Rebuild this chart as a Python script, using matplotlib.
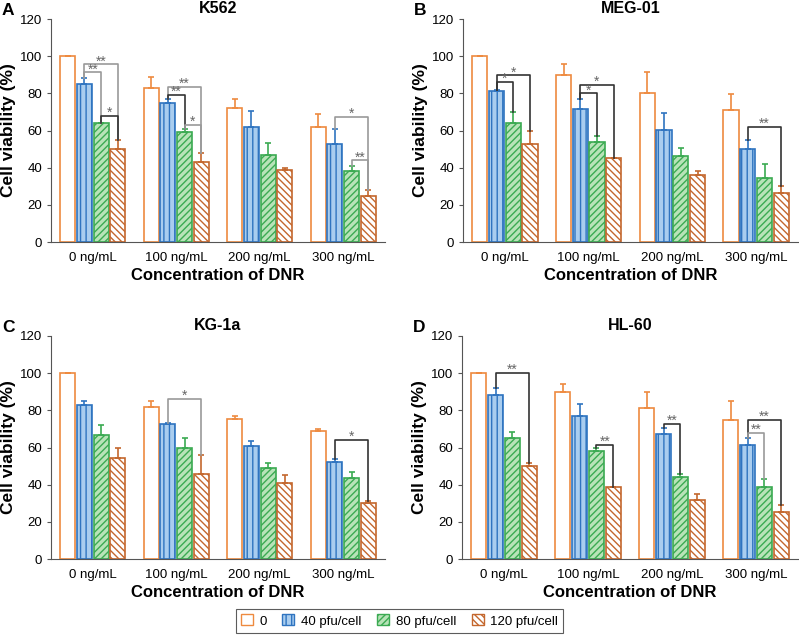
import matplotlib.pyplot as plt
import matplotlib.patches as mpatches
import numpy as np

plt.rcParams['font.family'] = ['Liberation Sans', 'DejaVu Sans']
plt.rcParams['hatch.linewidth'] = 1.0

groups = ['0 ng/mL', '100 ng/mL', '200 ng/mL', '300 ng/mL']
series = ['0', '40 pfu/cell', '80 pfu/cell', '120 pfu/cell']

# values: one list per series, 4 groups each
k562_vals = [[100, 83, 72, 62], [85, 75, 62, 53], [64, 59, 47, 38], [50, 43, 38.5, 25]]
k562_err = [[0, 5.7, 5, 7], [3, 2, 8.6, 8], [0, 2, 6.5, 3], [5, 5, 1.5, 3]]
meg_vals = [[100, 90, 80, 71], [81, 71.6, 60.5, 50], [64, 53.7, 46.4, 34.7], [52.8, 45, 36, 26.3]]
meg_err = [[0, 6, 11.5, 8.5], [1, 5.4, 9, 5], [6, 3.3, 4, 7.3], [7, 0, 2, 3.7]]
kg_vals = [[100, 82, 75.2, 69], [82.7, 72.5, 60.8, 52], [66.9, 60, 48.8, 43.6], [54.2, 46, 41, 30]]
kg_err = [[0, 3, 1.8, 1], [2.3, 0.5, 2.7, 2], [5.4, 5, 2.7, 3.4], [5.8, 10, 4, 1]]
hl_vals = [[100, 89.7, 81, 74.8], [88.3, 77, 67, 61.5], [65, 58.3, 44.3, 38.6], [49.9, 39, 32, 25.5]]
hl_err = [[0, 4.3, 9, 10.2], [3.7, 6.5, 3.5, 3.5], [3.5, 1.2, 1.7, 4.4], [1.6, 0, 3, 3.5]]

# significance brackets: (group, left series, right series, height, label, dark?)
k562_sig = [(0, 1, 3, 95.6, '**', False), (0, 1, 2, 91.3, '**', False), (0, 2, 3, 68, '*', True),
            (1, 1, 3, 83.6, '**', False), (1, 1, 2, 79, '**', True), (1, 2, 3, 63, '*', False),
            (3, 1, 3, 67.5, '*', False), (3, 2, 3, 44, '**', False)]
meg_sig = [(0, 1, 3, 89.7, '*', True), (0, 1, 2, 86, '*', True), (1, 1, 3, 84.5, '*', True),
           (1, 1, 2, 80, '*', True), (3, 1, 3, 62, '**', True)]
kg_sig = [(1, 1, 3, 86, '*', False), (3, 1, 3, 64, '*', True)]
hl_sig = [(0, 1, 3, 100, '**', True), (1, 2, 3, 61.3, '**', True), (2, 1, 2, 72.6, '**', True),
          (3, 1, 3, 74.8, '**', True), (3, 1, 2, 68, '**', False)]

edge = ['#EE8A3F', '#2F74C0', '#3BAA52', '#C4672D']
face = ['white', '#A9CDEF', '#B8E3B8', 'white']
hatch = [None, '|||', '/////', '\\\\\\\\\\']

W, H = 799, 637
fig = plt.figure(figsize=(W / 100, H / 100), dpi=100)

step = 0.2
bw = 0.18


def panel(rect, letter, title, vals, err, sig):
    l, t, r, b = rect
    ax = fig.add_axes([l / W, 1 - b / H, (r - l) / W, (b - t) / H])
    x = np.arange(len(groups))
    for i in range(4):
        xi = x + (i - 1.5) * step
        ax.bar(xi, vals[i], bw, color=face[i], edgecolor=edge[i], hatch=hatch[i],
               linewidth=1.2, zorder=2)
        yerr = np.array([np.zeros(4), err[i]])
        ax.errorbar(xi, vals[i], yerr=yerr, fmt='none', ecolor=edge[i],
                    elinewidth=1.2, capsize=2, capthick=1.2, zorder=3)
    for g, s1, s2, y, txt, dark in sig:
        c = '#333333' if dark else '#9a9a9a'
        x1 = g + (s1 - 1.5) * step
        x2 = g + (s2 - 1.5) * step
        y1 = vals[s1][g] + err[s1][g]
        y2 = vals[s2][g] + err[s2][g]
        ax.plot([x1, x1, x2, x2], [y1, y, y, y2], color=c, lw=1.2, zorder=4)
        ax.text((x1 + x2) / 2, y - 2.2, txt, ha='center', va='bottom',
                fontsize=10, color='#666666', zorder=5)
    ax.set_xlim(-0.5, 3.5)
    ax.set_ylim(0, 120)
    ax.set_yticks(range(0, 121, 20))
    ax.set_xticks(x)
    ax.set_xticklabels(groups, fontsize=9.5)
    ax.tick_params(axis='x', length=0, pad=7)
    ax.tick_params(axis='y', labelsize=9.5, length=3, color='#555555')
    for sp in ['top', 'right']:
        ax.spines[sp].set_visible(False)
    for sp in ['left', 'bottom']:
        ax.spines[sp].set_color('#555555')
    ax.set_ylabel('Cell viability (%)', fontsize=12.5, fontweight='bold', labelpad=3)
    ax.set_xlabel('Concentration of DNR', fontsize=12, fontweight='bold', labelpad=3)
    ax.set_title(title, fontsize=11.5, fontweight='bold', pad=4)
    fig.text((l - 49) / W, 1 - (t - 4) / H, letter, fontsize=12.5, fontweight='bold',
             ha='left', va='baseline')
    return ax


panel((51, 19, 385, 242), 'A', 'K562', k562_vals, k562_err, k562_sig)
panel((463, 19, 798, 242), 'B', 'MEG-01', meg_vals, meg_err, meg_sig)
panel((51, 336, 385, 559), 'C', 'KG-1a', kg_vals, kg_err, kg_sig)
panel((462, 336, 798, 559), 'D', 'HL-60', hl_vals, hl_err, hl_sig)

handles = [mpatches.Patch(facecolor=face[i], edgecolor=edge[i], hatch=hatch[i], label=series[i])
           for i in range(4)]
leg = fig.legend(handles=handles, loc='center', bbox_to_anchor=(0.5, 1 - 621 / H), ncol=4,
                 fontsize=9.5, frameon=True, fancybox=False, edgecolor='#333333',
                 handlelength=0.9, handleheight=0.9, columnspacing=1.2, handletextpad=0.5,
                 borderpad=0.4)
leg.get_frame().set_linewidth(0.8)

fig.savefig('out.png', dpi=100)
